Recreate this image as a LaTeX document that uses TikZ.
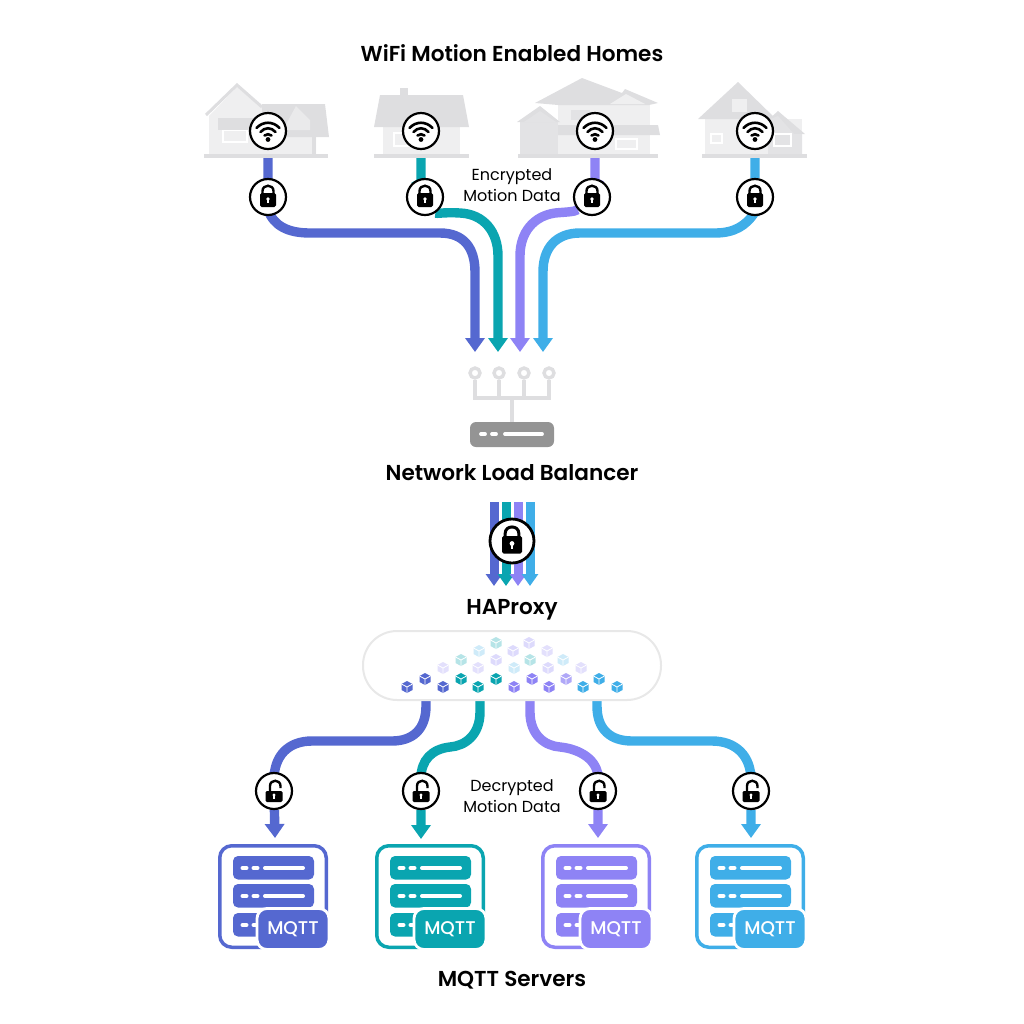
\documentclass[tikz,border=0pt]{standalone}
\usepackage{fontspec}
\setmainfont{Poppins}[BoldFont={Poppins SemiBold}]
\newfontfamily\badgefont{Poppins Medium}
\usepackage{xcolor}
\usetikzlibrary{positioning,arrows.meta,backgrounds}

\definecolor{flowA}{HTML}{5568D0}
\definecolor{flowB}{HTML}{0AA5B0}
\definecolor{flowC}{HTML}{8E83F5}
\definecolor{flowD}{HTML}{3FAEE8}
\definecolor{roofgray}{HTML}{DEDEE0}
\definecolor{wallgray}{HTML}{EFEFF0}

\tikzset{
    pics/closedlock/.style={code={
        \draw[line width=#1] (-5.5,-3) -- (-5.5,-6) .. controls (-5.5,-13) and (5.5,-13) .. (5.5,-6) -- (5.5,-3);
        \fill[black, rounded corners=0.8pt] (-8,-4) rectangle (8,10);
        \fill[white] (0,2) circle[radius=1.9];
        \fill[white] (-0.9,2) rectangle (0.9,6);
    }},
    pics/openlock/.style={code={
        \draw[line width=1.2pt] (-4,1) -- (-4,-5) .. controls (-4,-12) and (6.5,-12) .. (6.5,-5) -- (6.5,-3);
        \fill[black, rounded corners=0.7pt] (-8.5,0) rectangle (8.5,11);
        \fill[white] (0,4) circle[radius=1.7];
        \fill[white] (-0.8,4) rectangle (0.8,8);
    }},
    pics/wifiicon/.style={code={
        \draw[line width=1.3pt, line cap=round] (-11.5,-3) .. controls (-5,-10) and (5,-10) .. (11.5,-3);
        \draw[line width=1.3pt, line cap=round] (-7.5,1) .. controls (-3,-4) and (3,-4) .. (7.5,1);
        \draw[line width=1.3pt, line cap=round] (-3.5,4.5) .. controls (-1.5,2.8) and (1.5,2.8) .. (3.5,4.5);
        \fill[black] (0,8.5) circle[radius=2.4];
    }},
    pics/cube/.style={code={
        \fill[#1] (0,-6) -- (5.5,-3) -- (5.5,3) -- (0,6) -- (-5.5,3) -- (-5.5,-3) -- cycle;
        \draw[white, line width=0.4pt] (-5.5,-3) -- (0,0) -- (5.5,-3) (0,0) -- (0,6);
    }},
    pics/mqttserver/.style={code={
        \draw[#1, line width=1.75pt, rounded corners=6pt] (1.75,1.75) rectangle (108.25,103.25);
        \foreach \rowy in {12,40,69} {
            \fill[#1, rounded corners=2.5pt] (15,\rowy) rectangle (96,\rowy+23.5);
            \draw[white, line width=2pt, line cap=round] (24.5,\rowy+12) -- (28.5,\rowy+12);
            \draw[white, line width=2pt, line cap=round] (35.5,\rowy+12) -- (39.5,\rowy+12);
            \draw[white, line width=2pt, line cap=round] (47,\rowy+12) -- (85,\rowy+12);
        }
        \node[badge, fill=#1] (badge) at (75,85) {MQTT};
    }},
    badge/.style={rectangle, draw=white, line width=1.4pt, rounded corners=5pt, minimum width=36pt, minimum height=20.5pt, inner sep=0pt, text=white, font=\badgefont\fontsize{9.2}{10}\selectfont},
    title/.style={font=\fontsize{10.8}{12}\selectfont\bfseries, inner sep=0pt},
    caption/.style={font=\fontsize{8}{10.4}\selectfont, align=center, inner sep=0pt},
    ring/.style={circle, draw=black, fill=white, line width=1.1pt, minimum size=18pt, inner sep=0pt},
    bigring/.style={circle, draw=black, fill=white, line width=1.4pt, minimum size=22pt, inner sep=0pt},
    flow/.style={line width=4.7pt, draw=#1, -{Triangle[width=9.5pt,length=7pt]}},
    thinflow/.style={line width=4.5pt, draw=#1, -{Triangle[width=8pt,length=6pt]}},
    portring/.style={circle, draw=roofgray, fill=white, line width=1.7pt, minimum size=5pt, inner sep=0pt},
    stem/.style={draw=roofgray, line width=1.8pt}
}

\begin{document}
\begin{tikzpicture}[x=0.5pt,y=-0.5pt]
    \useasboundingbox (0,0) rectangle (1024,1024);

    % Houses
    \fill[wallgray] (209,116) -- (237,87) -- (262,108) -- (316,137) -- (316,155) -- (209,155) -- cycle;
    \draw[roofgray, line width=1.5pt] (206,115) -- (237,85) -- (262,107);
    \fill[roofgray] (262,104) -- (325,104) -- (329,137) -- (262,137) -- cycle;
    \fill[wallgray!70!roofgray] (283,130) -- (296,106) -- (310,120) -- (310,130) -- cycle;
    \fill[roofgray] (218,118) rectangle (262,130);
    \fill[white] (222,130) rectangle (248,143);
    \fill[wallgray] (224,131) rectangle (246,141);
    \fill[roofgray] (312,137) rectangle (316,155);
    \fill[roofgray] (204,154) rectangle (328,158);

    \fill[roofgray] (400,88) rectangle (408,96);
    \fill[wallgray] (383,127) rectangle (460,155);
    \fill[roofgray] (380,95) -- (463,95) -- (469,127) -- (374,127) -- cycle;
    \fill[white] (393,132) rectangle (413,147);
    \fill[wallgray] (395,134) rectangle (411,145);
    \fill[roofgray] (374,154) rectangle (469,158);

    \fill[wallgray] (558,103) rectangle (650,156);
    \fill[roofgray!70!wallgray] (520,122) rectangle (558,156);
    \fill[roofgray] (535,103) -- (582,78) -- (622,93) -- (625,89) -- (658,103) -- (649,105) -- (558,105) -- cycle;
    \fill[wallgray] (610,104) -- (626,94) -- (645,104) -- cycle;
    \fill[roofgray] (517,122) -- (540,106) -- (560,122) -- cycle;
    \fill[roofgray!70!wallgray] (524,122) -- (540,111) -- (556,122) -- cycle;
    \fill[roofgray] (558,125) -- (658,125) -- (660,135) -- (558,135) -- cycle;
    \fill[roofgray!70!wallgray] (571,110) rectangle (590,120);
    \fill[white] (615,138) rectangle (638,150);
    \fill[wallgray] (617,140) rectangle (636,148);
    \fill[roofgray] (518,154) rectangle (658,158);

    \fill[wallgray] (705,119) rectangle (802,156);
    \fill[roofgray] (698,119) -- (738,82) -- (776,119) -- cycle;
    \fill[wallgray] (732,99) rectangle (747,112);
    \fill[roofgray] (768,120) -- (778,111) -- (805,134) -- (790,134) -- cycle;
    \fill[roofgray!70!wallgray] (768,120) -- (778,116) -- (794,134) -- (802,134) -- (802,156) -- (768,156) -- cycle;
    \fill[white] (710,133) rectangle (723,144);
    \fill[wallgray] (712,135) rectangle (721,142);
    \fill[white] (773,133) rectangle (792,147);
    \fill[roofgray!70!wallgray] (775,135) rectangle (790,145);
    \fill[roofgray] (702,154) rectangle (807,158);

    % Title and captions
    \node[title] (homes) at (512,53) {WiFi Motion Enabled Homes};
    \node[caption] (encrypted) at (512,185) {Encrypted\\Motion Data};
    \node[title] (balancer) at (512,473) {Network Load Balancer};
    \node[title] (haproxy) at (512,610) {HAProxy};
    \node[caption] (decrypted) at (512,796) {Decrypted\\Motion Data};
    \node[title] (servers) at (512,980) {MQTT Servers};

    % WiFi points
    \node[ring] (wifiA) at (268,131) {};
    \node[ring] (wifiB) at (421,131) {};
    \node[ring] (wifiC) at (595,131) {};
    \node[ring] (wifiD) at (755,131) {};
    \foreach \nm in {wifiA,wifiB,wifiC,wifiD} {
        \pic at (\nm) {wifiicon};
    }

    % Locks
    \node[ring] (lockA) at (268,197) {};
    \node[ring] (lockB) at (425,197) {};
    \node[ring] (lockC) at (592,197) {};
    \node[ring] (lockD) at (755,197) {};
    \node[bigring] (lockMid) at (512,541) {};
    \node[ring] (openA) at (274,791) {};
    \node[ring] (openB) at (421,791) {};
    \node[ring] (openC) at (598,791) {};
    \node[ring] (openD) at (751,791) {};
    \foreach \nm in {lockA,lockB,lockC,lockD} {
        \pic at (\nm) {closedlock=1.2pt};
    }
    \pic[scale=1.25] at (lockMid) {closedlock=1.5pt};
    \foreach \nm in {openA,openB,openC,openD} {
        \pic at (\nm) {openlock};
    }

    % Load balancer
    \coordinate (hub) at (512,398);
    \node[rectangle, fill=black!42, rounded corners=3pt, minimum width=42pt, minimum height=12.5pt, inner sep=0pt] (router) at (512,434.5) {};
    \draw[white, line width=1.9pt, line cap=round] (481,434) -- (485,434) (492,434) -- (496,434) (505,434) -- (542,434);
    \node[portring] (portA) at (475,373) {};
    \node[portring] (portB) at (499,373) {};
    \node[portring] (portC) at (524,373) {};
    \node[portring] (portD) at (549,373) {};

    % HAProxy
    \node[rectangle, draw=black!9, fill=white, line width=1pt, rounded corners=17pt, minimum width=149pt, minimum height=34.5pt] (pill) at (512,665.5) {};
    \foreach \cx/\cy/\cc in {407/687/flowA, 425/679/flowA, 443/687/flowA, 461/679/flowB, 478/687/flowB, 496/679/flowB,
        514/687/flowC, 532/679/flowC, 549/687/flowC, 566/679/flowC!70!white, 583/687/flowD, 599/679/flowD, 617/687/flowD,
        443/668/flowC!25!white, 461/660/flowB!30!white, 478/668/flowC!25!white, 479/651/flowD!25!white, 496/660/flowC!30!white,
        496/643/flowB!30!white, 514/668/flowD!25!white, 513/651/flowC!30!white, 530/660/flowB!30!white, 529/643/flowC!30!white,
        548/668/flowC!30!white, 547/651/flowC!25!white, 563/660/flowD!25!white, 581/668/flowC!25!white} {
        \pic at (\cx,\cy) {cube=\cc};
    }

    % Servers
    \pic (serverA) at (218,844) {mqttserver=flowA};
    \pic (serverB) at (375,844) {mqttserver=flowB};
    \pic (serverC) at (541,844) {mqttserver=flowC};
    \pic (serverD) at (695,844) {mqttserver=flowD};

    % Free ends
    \coordinate (inA) at (475,352);
    \coordinate (inB) at (498,352);
    \coordinate (inC) at (520,352);
    \coordinate (inD) at (543,352);
    \coordinate (outA) at (426,698);
    \coordinate (outB) at (480,698);
    \coordinate (outC) at (530,698);
    \coordinate (outD) at (597,698);
    \coordinate (tipA) at (275,838);
    \coordinate (tipB) at (421,839);
    \coordinate (tipC) at (598,838);
    \coordinate (tipD) at (751,838);

    % Connections
    \begin{scope}[on background layer]
        \draw[flow=flowA] (wifiA) -- (268,210) .. controls (274,226) and (288,233) .. (310,233) -- (440,233) .. controls (464,233) and (475,248) .. (475,272) -- (inA);
        \draw[flow=flowB] (wifiB) -- (421,190) -- (lockB) .. controls (436,214) and (445,212) .. (460,213) .. controls (484,214) and (498,232) .. (498,256) -- (inB);
        \draw[flow=flowC] (wifiC) -- (595,190) -- (lockC) .. controls (575,212) and (565,212) .. (555,213) .. controls (534,216) and (520,232) .. (520,256) -- (inC);
        \draw[flow=flowD] (wifiD) -- (lockD) -- (755,212) .. controls (746,226) and (734,233) .. (715,233) -- (580,233) .. controls (556,233) and (543,248) .. (543,272) -- (inD);

        \draw[stem] (portA) |- (hub);
        \draw[stem] (portB) |- (hub);
        \draw[stem] (portC) |- (hub);
        \draw[stem] (portD) |- (hub);
        \draw[stem] (hub) -- (router);

        \coordinate (midA) at (494,502);
        \coordinate (midB) at (506,502);
        \coordinate (midC) at (518,502);
        \coordinate (midD) at (530,502);
        \draw[thinflow=flowA] (midA) -- (494,586);
        \draw[thinflow=flowB] (midB) -- (506,586);
        \draw[thinflow=flowC] (midC) -- (518,586);
        \draw[thinflow=flowD] (midD) -- (530,586);

        \draw[flow=flowA] (outA) -- (426,706) .. controls (426,730) and (412,741) .. (392,741) -- (312,741) .. controls (288,741) and (274,756) .. (274,780) -- (openA) -- (tipA);
        \draw[flow=flowB] (outB) -- (480,712) .. controls (480,735) and (465,746) .. (450,747) .. controls (432,749) and (421,760) .. (421,778) -- (openB) -- (tipB);
        \draw[flow=flowC] (outC) -- (530,712) .. controls (530,735) and (545,746) .. (560,747) .. controls (580,749) and (598,760) .. (598,778) -- (openC) -- (tipC);
        \draw[flow=flowD] (outD) -- (597,706) .. controls (597,730) and (611,741) .. (632,741) -- (712,741) .. controls (736,741) and (751,756) .. (751,780) -- (openD) -- (tipD);
    \end{scope}
\end{tikzpicture}
\end{document}
